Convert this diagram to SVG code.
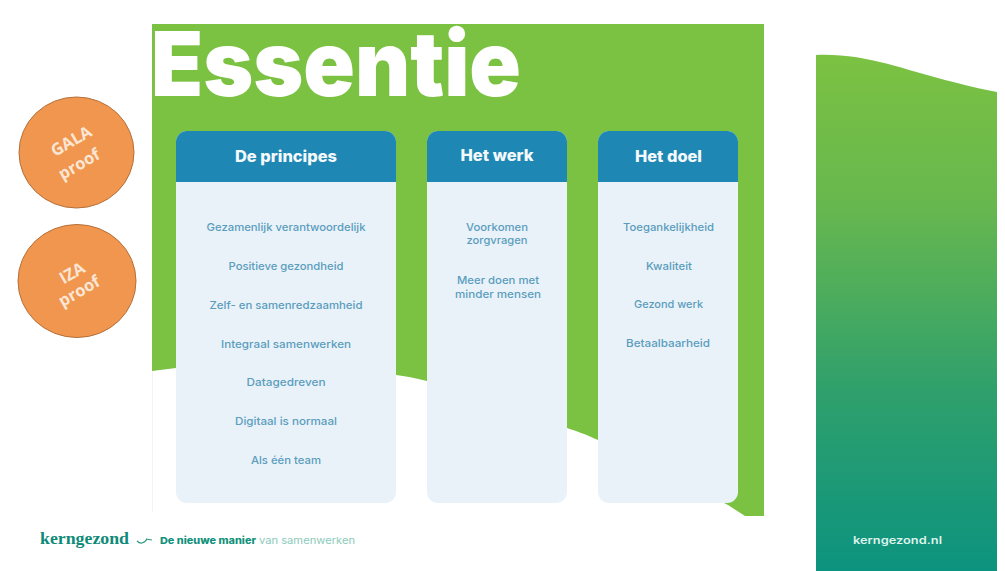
<svg xmlns="http://www.w3.org/2000/svg" width="1005" height="571" viewBox="0 0 1005 571">
  <style>
    text { font-family: "Inter", "Liberation Sans", sans-serif; text-anchor: middle; }
    .title { font-size: 90px; font-weight: 900; fill: #ffffff; }
    .card { fill: #e9f2f9; }
    .head { fill: #1f87b4; }
    .h { font-size: 16px; font-weight: 800; fill: #f4f9fb; }
    .item { font-size: 11px; font-weight: 500; fill: #5b9dbd; }
    .badge { fill: #f0964f; stroke: #b5703a; stroke-width: 1; }
    .bt { font-family: "Open Sans", "Liberation Sans", sans-serif; font-size: 16.500px; font-weight: 700; fill: #fbe6d5; }
  </style>
  <defs>
    <linearGradient id="side" x1="0" y1="0" x2="0" y2="1">
      <stop offset="0" stop-color="#7cc242"/>
      <stop offset="0.3" stop-color="#66b74f"/>
      <stop offset="0.65" stop-color="#2fa06c"/>
      <stop offset="1" stop-color="#0c937f"/>
    </linearGradient>
    <clipPath id="titleClip"><rect x="152" y="0" width="612" height="120"/></clipPath>
  </defs>
  <rect width="1005" height="571" fill="#ffffff"/>

  <g id="slide">
    <line x1="152.500" y1="370" x2="152.500" y2="512" stroke="#f3f3f3" stroke-width="1"/>
    <path d="M152 24H764V516H745L728 505C690 486 640 458 598 440C585 434 576 431 567 428C520 411 470 396 427 381C415 378 405 376 396 375C330 364 250 358 176 368L152 371Z" fill="#7cc242"/>
    <text class="title" x="336" y="96" textLength="370" lengthAdjust="spacingAndGlyphs" clip-path="url(#titleClip)">Essentie</text>
  </g>

  <g id="card-principes">
    <rect class="card" x="176" y="131" width="220" height="372" rx="11"/>
    <path class="head" d="M176 182V142A11 11 0 0 1 187 131H385A11 11 0 0 1 396 142V182Z"/>
    <text class="h" x="286" y="162" textLength="102" lengthAdjust="spacingAndGlyphs">De principes</text>
    <text class="item" x="286" y="231" textLength="159" lengthAdjust="spacingAndGlyphs">Gezamenlijk verantwoordelijk</text>
    <text class="item" x="286" y="270" textLength="115" lengthAdjust="spacingAndGlyphs">Positieve gezondheid</text>
    <text class="item" x="286" y="309" textLength="153" lengthAdjust="spacingAndGlyphs">Zelf- en samenredzaamheid</text>
    <text class="item" x="286" y="348" textLength="130" lengthAdjust="spacingAndGlyphs">Integraal samenwerken</text>
    <text class="item" x="286" y="386" textLength="79" lengthAdjust="spacingAndGlyphs">Datagedreven</text>
    <text class="item" x="286" y="425" textLength="102" lengthAdjust="spacingAndGlyphs">Digitaal is normaal</text>
    <text class="item" x="286" y="464" textLength="70" lengthAdjust="spacingAndGlyphs">Als één team</text>
  </g>

  <g id="card-werk">
    <rect class="card" x="427" y="131" width="140" height="372" rx="11"/>
    <path class="head" d="M427 182V142A11 11 0 0 1 438 131H556A11 11 0 0 1 567 142V182Z"/>
    <text class="h" x="497" y="161" textLength="73" lengthAdjust="spacingAndGlyphs">Het werk</text>
    <text class="item" x="497" y="231" textLength="62" lengthAdjust="spacingAndGlyphs">Voorkomen</text>
    <text class="item" x="497" y="244" textLength="61" lengthAdjust="spacingAndGlyphs">zorgvragen</text>
    <text class="item" x="498" y="284" textLength="82" lengthAdjust="spacingAndGlyphs">Meer doen met</text>
    <text class="item" x="498" y="298" textLength="86" lengthAdjust="spacingAndGlyphs">minder mensen</text>
  </g>

  <g id="card-doel">
    <rect class="card" x="598" y="131" width="140" height="372" rx="11"/>
    <path class="head" d="M598 182V142A11 11 0 0 1 609 131H727A11 11 0 0 1 738 142V182Z"/>
    <text class="h" x="668.500" y="162" textLength="67" lengthAdjust="spacingAndGlyphs">Het doel</text>
    <text class="item" x="668.500" y="231" textLength="91" lengthAdjust="spacingAndGlyphs">Toegankelijkheid</text>
    <text class="item" x="669" y="270" textLength="46" lengthAdjust="spacingAndGlyphs">Kwaliteit</text>
    <text class="item" x="668.500" y="308" textLength="69" lengthAdjust="spacingAndGlyphs">Gezond werk</text>
    <text class="item" x="668" y="347" textLength="84" lengthAdjust="spacingAndGlyphs">Betaalbaarheid</text>
  </g>

  <g id="badge-gala">
    <ellipse class="badge" cx="76.500" cy="152.500" rx="57.500" ry="55.500"/>
    <text class="bt" transform="translate(74 146) rotate(-30)">GALA</text>
    <text class="bt" transform="translate(82 169) rotate(-30)">proof</text>
  </g>

  <g id="badge-iza">
    <ellipse class="badge" cx="77" cy="281" rx="59" ry="56.500"/>
    <text class="bt" transform="translate(75 278) rotate(-30)">IZA</text>
    <text class="bt" transform="translate(82 296) rotate(-30)">proof</text>
  </g>

  <g id="footer">
    <text x="84.500" y="544" textLength="89" lengthAdjust="spacingAndGlyphs" style="font-family:'Liberation Serif',serif;font-size:16px;font-weight:700;fill:#0f8a78">kerngezond</text>
    <path d="M137 541C140 544 144 544 147 539M146 539L152 540" fill="none" stroke="#2a9a7a" stroke-width="1.200"/>
    <text x="208" y="544" textLength="96" lengthAdjust="spacingAndGlyphs" style="font-size:9.500px;font-weight:800;fill:#12917c">De nieuwe manier</text>
    <text x="307" y="544" textLength="96" lengthAdjust="spacingAndGlyphs" style="font-size:9.500px;font-weight:400;fill:#8ccbbb">van samenwerken</text>
  </g>

  <g id="side-panel">
    <path d="M816 571V55C865 53 905 70 945 80C965 85 980 89 997 92V571Z" fill="url(#side)"/>
    <text x="897.500" y="544" textLength="89" lengthAdjust="spacingAndGlyphs" style="font-size:10.500px;font-weight:600;fill:#dff3ec">kerngezond.nl</text>
  </g>
</svg>
